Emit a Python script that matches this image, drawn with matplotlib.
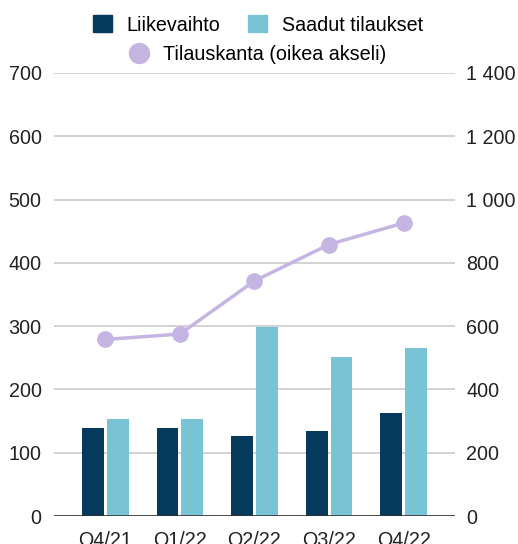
import matplotlib.pyplot as plt
import numpy as np
from matplotlib.lines import Line2D
from matplotlib.patches import Patch
from matplotlib.ticker import FuncFormatter

plt.rcParams["font.family"] = ["Liberation Sans", "DejaVu Sans"]

quarters = ["Q4/21", "Q1/22", "Q2/22", "Q3/22", "Q4/22"]
liikevaihto = [139, 139, 126, 134, 163]
saadut_tilaukset = [153, 153, 299, 251, 266]
tilauskanta = [558, 575, 743, 858, 926]

c_dark = "#053a5d"
c_light = "#78c4d4"
c_line = "#c5b5e3"
fs = 14.2

fig = plt.figure(figsize=(5.18, 5.44), dpi=100)
ax = fig.add_axes([54 / 518, 28 / 544, 401 / 518, 443 / 544])
ax2 = ax.twinx()

x = np.arange(len(quarters))
w = 0.294
off = 0.167
ax.bar(x - off, liikevaihto, width=w, color=c_dark, zorder=3)
ax.bar(x + off, saadut_tilaukset, width=w, color=c_light, zorder=3)
ax2.plot(x, tilauskanta, color=c_line, lw=2.5, marker="o", ms=11,
         solid_capstyle="round", zorder=4)

ax.set_xlim(-0.69, 4.69)
ax.set_ylim(0, 700)
ax2.set_ylim(0, 1400)
ax.set_yticks(range(0, 701, 100))
ax2.set_yticks(range(0, 1401, 200))
ax2.yaxis.set_major_formatter(FuncFormatter(lambda v, p: f"{int(v):,}".replace(",", " ")))
ax.set_xticks(x)
ax.set_xticklabels(quarters)

ax.grid(axis="y", color="#cccccc", lw=1.2, zorder=0)
for a in (ax, ax2):
    for s in ["top", "left", "right", "bottom"]:
        a.spines[s].set_visible(False)
    a.tick_params(length=0, labelsize=fs, colors="#222222")
ax.axhline(0, color="#333333", lw=1.2, zorder=5)
ax.tick_params(axis="y", pad=9)
ax2.tick_params(axis="y", pad=8)
ax.tick_params(axis="x", pad=11)

h1 = [Patch(color=c_dark), Patch(color=c_light)]
fig.legend(h1, ["Liikevaihto", "Saadut tilaukset"], ncol=2, loc="center",
           bbox_to_anchor=(258 / 518, 1 - 25 / 544), frameon=False, fontsize=fs,
           handlelength=0.95, handleheight=0.95, handletextpad=0.75, columnspacing=1.4)
h2 = [Line2D([], [], color=c_line, marker="o", ms=14.4, lw=0)]
fig.legend(h2, ["Tilauskanta (oikea akseli)"], loc="center",
           bbox_to_anchor=(258 / 518, 1 - 54 / 544), frameon=False, fontsize=fs,
           handlelength=1.0, handletextpad=0.7)

fig.savefig("out.png", dpi=100)
